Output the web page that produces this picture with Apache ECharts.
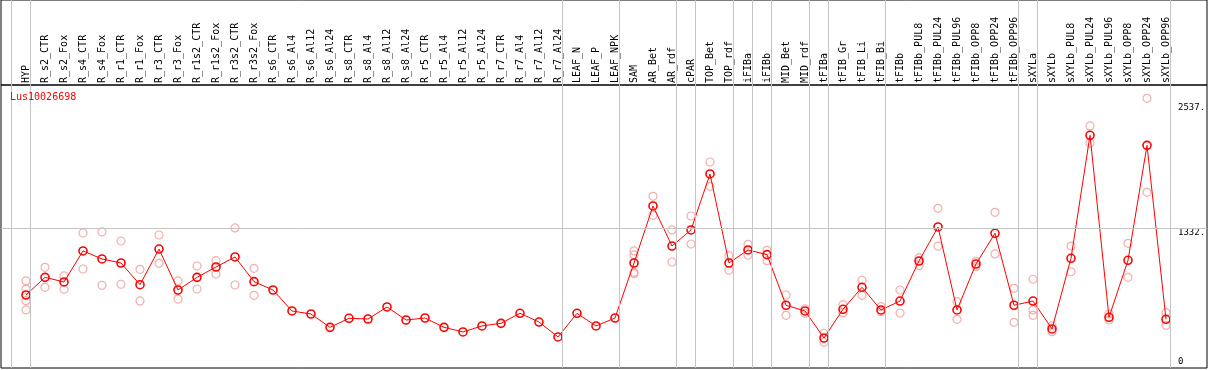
<!DOCTYPE html>
<html>
<head>
<meta charset="utf-8">
<script src="https://cdn.jsdelivr.net/npm/echarts@6/dist/echarts.min.js"></script>
<style>
html,body{margin:0;padding:0;background:#fff;}
#chart{width:1209px;height:370px;}
</style>
</head>
<body>
<div id="chart"></div>
<script>
// ---- data ----
const geneName = 'Lus10026698';
const categories = ['HYP','R_s2_CTR','R_s2_Fox','R_s4_CTR','R_s4_Fox','R_r1_CTR','R_r1_Fox','R_r3_CTR','R_r3_Fox','R_r1s2_CTR','R_r1s2_Fox','R_r3s2_CTR','R_r3s2_Fox','R_s6_CTR','R_s6_Al4','R_s6_Al12','R_s6_Al24','R_s8_CTR','R_s8_Al4','R_s8_Al12','R_s8_Al24','R_r5_CTR','R_r5_Al4','R_r5_Al12','R_r5_Al24','R_r7_CTR','R_r7_Al4','R_r7_Al12','R_r7_Al24','LEAF_N','LEAF_P','LEAF_NPK','SAM','AR_Bet','AR_rdf','cPAR','TOP_Bet','TOP_rdf','iFIBa','iFIBb','MID_Bet','MID_rdf','tFIBa','tFIB_Gr','tFIB_Li','tFIB_Bi','tFIBb','tFIBb_PUL8','tFIBb_PUL24','tFIBb_PUL96','tFIBb_OPP8','tFIBb_OPP24','tFIBb_OPP96','sXYLa','sXYLb','sXYLb_PUL8','sXYLb_PUL24','sXYLb_PUL96','sXYLb_OPP8','sXYLb_OPP24','sXYLb_OPP96'];
const means = [667,843,797,1106,1026,986,770,1125,717,843,946,1046,800,717,508,478,345,435,428,548,418,438,345,299,359,385,485,398,249,485,359,438,986,1554,1155,1315,1873,986,1116,1069,565,508,239,525,744,518,607,1006,1345,518,976,1282,565,607,329,1033,2258,445,1013,2158,425];
const replicates = [
  [807,724,611,518],[943,744],[857,724],[1285,926],[1295,764],[1205,774],[923,608],[1265,983],[807,627],[956,727],
  [1009,876],[1335,767],[933,664],[],[],[],[],[],[],[],
  [],[],[],[],[],[],[],[],[],[],
  [],[],[1106,1066,893,880],[1650,1461],[1315,996],[1454,1175],[1992,1750],[1056,913],[1172,1063],[1112,1009],
  [667,465],[530,485],[286,196],[571,491],[814,664],[551,501],[717,488],[1039,959],[1531,1155],[601,425],
  [1003,949],[1491,1076],[734,395],[824,518,465],[359,302],[1155,899],[2351,2181],[478,418],[1182,843],[2626,1690],
  [491,365]
];
const groupEnds = [-1,0,28,31,34,35,37,38,39,41,42,45,52,53,60];
const yTickValues = [0,1332,2537];
const yTickLabels = ['0','1332.','2537.'];
const refLineValue = 1332;

// ---- build ----
const X_MIN = -25/19, X_MAX = -25/19 + 1206/19;
const meanData = means.map((v,i)=>[i,v]);
const repData = [];
replicates.forEach((arr,i)=>arr.forEach(v=>repData.push([i,v])));
const sepLines = groupEnds.map(g=>({xAxis: g + 0.23}));
const grey = '#c4c4c4';
const mono = '"DejaVu Sans Mono", monospace';
const mlCommon = {silent:true, symbol:'none', label:{show:false}, animation:false,
  lineStyle:{color:grey, width:1, type:'solid'}, emphasis:{disabled:true}};

const chart = echarts.init(document.getElementById('chart'), null, {renderer:'canvas'});
chart.setOption({
  animation:false,
  backgroundColor:'#fff',
  title:{text:geneName, left:10, top:92, padding:0,
    textStyle:{color:'#ff0000', fontSize:10, fontWeight:'normal', fontFamily:mono}},
  grid:[
    {left:1, right:2, top:0, height:85, show:true, borderColor:'#000', borderWidth:1, backgroundColor:'transparent'},
    {left:1, right:2, top:85, bottom:2, show:true, borderColor:'#000', borderWidth:1, backgroundColor:'transparent'}
  ],
  xAxis:[
    {gridIndex:0, type:'value', min:X_MIN, max:X_MAX, position:'bottom',
     axisLine:{show:false}, axisTick:{show:false}, splitLine:{show:false},
     axisLabel:{show:true, inside:true, rotate:90, margin:2, fontSize:10, fontFamily:mono, color:'#000',
       customValues:categories.map((c,i)=>i), formatter:(v)=>categories[Math.round(v)]}},
    {gridIndex:1, type:'value', min:X_MIN, max:X_MAX, show:false}
  ],
  yAxis:[
    {gridIndex:0, type:'value', min:0, max:1, show:false},
    {gridIndex:1, type:'value', min:-60, max:2759, position:'right',
     axisLine:{show:false}, axisTick:{show:false}, splitLine:{show:false},
     axisLabel:{show:true, inside:true, align:'left', margin:29, fontSize:9, fontFamily:mono, color:'#000',
       customValues:yTickValues,
       formatter:(v)=>{const t=yTickLabels[yTickValues.indexOf(v)]; return v===refLineValue ? '{d|'+t+'}' : t;},
       rich:{d:{fontSize:9, fontFamily:mono, color:'#000', padding:[8,0,0,0]}}}}
  ],
  series:[
    {type:'line', xAxisIndex:0, yAxisIndex:0, data:[], silent:true,
     markLine:Object.assign({data:sepLines}, mlCommon)},
    {type:'line', xAxisIndex:1, yAxisIndex:1, data:[], silent:true,
     markLine:Object.assign({data:sepLines.concat([{yAxis:refLineValue}])}, mlCommon)},
    {type:'scatter', xAxisIndex:1, yAxisIndex:1, data:repData, symbol:'circle', symbolSize:8, z:3,
     itemStyle:{color:'rgba(0,0,0,0)', borderColor:'#f09a9a', borderWidth:1.2}},
    {type:'line', xAxisIndex:1, yAxisIndex:1, data:meanData, symbol:'circle', symbolSize:8, showAllSymbol:true, z:4,
     lineStyle:{color:'#ff0000', width:1},
     itemStyle:{color:'rgba(0,0,0,0)', borderColor:'#ff0000', borderWidth:1.6}}
  ]
});
</script>
</body>
</html>
